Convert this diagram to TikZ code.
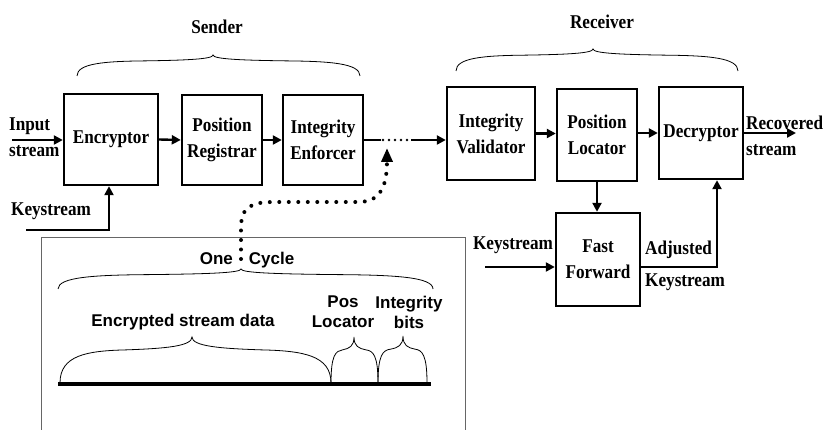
\documentclass[tikz,border=0pt]{standalone}
\usepackage{fontspec}
\setmainfont{Liberation Serif}[FakeStretch=0.88]
\setsansfont{Liberation Sans}
\usetikzlibrary{arrows.meta,calc}
\newcommand{\mybrace}[5]{%
\draw[brc] (#1,#4) .. controls (#1,{#4-0.6*#5}) and ({#1+0.2*(#2-#1)},{#4-0.7*#5}) .. ({#1+0.5*(#2-#1)},{#4-0.72*#5})
 .. controls ({#2-0.2*(#2-#1)},{#4-0.75*#5}) and (#2,{#4-0.8*#5}) .. (#2,{#4-#5})
 .. controls (#2,{#4-0.8*#5}) and ({#2+0.2*(#3-#2)},{#4-0.75*#5}) .. ({#2+0.5*(#3-#2)},{#4-0.72*#5})
 .. controls ({#3-0.2*(#3-#2)},{#4-0.7*#5}) and (#3,{#4-0.6*#5}) .. (#3,#4);}
\begin{document}
\begin{tikzpicture}[x=1pt,y=-1pt,
  blk/.style={draw, line width=2.4pt, inner sep=0pt, align=center, font=\bfseries\fontsize{19.5}{26}\selectfont},
  lbl/.style={inner sep=0pt, align=left, font=\bfseries\fontsize{19.5}{26}\selectfont},
  sl/.style={inner sep=0pt, align=center, font=\sffamily\bfseries\fontsize{17}{20}\selectfont},
  arr/.style={line width=2.4pt, -{Triangle[length=9pt,width=9pt]}},
  ln/.style={line width=2.4pt},
  brc/.style={line width=0.8pt},
  dotsm/.style={line width=2.6pt, line cap=round, dash pattern=on 0pt off 6pt},
  dotbig/.style={line width=4pt, line cap=round, dash pattern=on 0pt off 9.5pt, -{Triangle[length=14pt,width=11pt]}}]
\useasboundingbox (0,0) rectangle (827,430);
\fill[white] (0,0) rectangle (827,430);

% boxes
\node[blk, minimum width=94pt, minimum height=91pt] (enc) at (111,139.5) {Encryptor};
\node[blk, minimum width=80pt, minimum height=90pt] (pr) at (222,140) {Position\\Registrar};
\node[blk, minimum width=80pt, minimum height=90pt] (ie) at (323,140) {Integrity\\Enforcer};
\node[blk, minimum width=88pt, minimum height=93pt] (iv) at (491,133.5) {Integrity\\Validator};
\node[blk, minimum width=80pt, minimum height=92pt] (pl) at (597,135) {Position\\Locator};
\node[blk, minimum width=84pt, minimum height=92pt] (dec) at (701,133) {Decryptor};
\node[blk, minimum width=84pt, minimum height=93pt] (ff) at (598,259.5) {Fast\\Forward};

% labels
\node[lbl] (snd) at (217,27) {Sender};
\node[lbl] (rcv) at (602,22) {Receiver};
\node[lbl, anchor=west] (inp) at (9,137.5) {Input\\stream};
\node[lbl, anchor=west] (ks) at (11,211) {Keystream};
\node[lbl, anchor=west] (rec) at (746,136) {Recovered\\stream};
\node[lbl] (ks2) at (513,245) {Keystream};
\node[lbl, anchor=west] (adj) at (645,250) {Adjusted};
\node[lbl, anchor=west] (adjk) at (645,282) {Keystream};

% braces
\mybrace{77}{213}{360}{76}{21}
\mybrace{456}{593}{738}{71}{22}

% connectors
\coordinate (inS) at (12,140);
\draw[arr] (inS) -- (inS -| enc.west);
\coordinate (ksS) at (26,230);
\draw[arr] (ksS) -| ($(enc.south)+(-2,0)$);
\draw[arr] (enc.east) -- (pr.west);
\draw[arr] (pr.east) -- (ie.west);
\coordinate (d1) at (381,140);
\coordinate (d2) at (411,140);
\draw[ln] (ie.east) -- (d1);
\draw[dotsm] (383,140) -- (408,140);
\draw[arr] (d2) -- (d2 -| iv.west);
\draw[arr] (iv.east) -- (iv.east -| pl.west);
\draw[arr] (dec.west -| pl.east) -- (dec.west);
\coordinate (recE) at (796,133);
\draw[arr] (dec.east) -- (recE);
\draw[arr] (pl.south) -- (pl.south |- ff.north);
\coordinate (ks2S) at (485,267);
\draw[arr] (ks2S) -- (ks2S -| ff.west);
\draw[arr] ($(ff.east)+(0,7.5)$) -| ($(dec.south)+(16,0)$);

% cycle panel
\draw[line width=1pt, black!60] (41,431) -- (41,238) -- (465,238) -- (465,431);
\node[sl] (oc) at (247,260) {One\hspace{16pt}Cycle};
\mybrace{58}{241}{433}{289}{20}
\node[sl] (esd) at (183,322) {Encrypted stream data};
\node[sl] (pos) at (343,312) {Pos\\Locator};
\node[sl] (ib) at (409,312) {Integrity\\bits};
\mybrace{60}{192}{331}{383}{46}
\mybrace{331}{354}{378}{383}{46}
\mybrace{378}{403}{427}{383}{47}
\draw[line width=3.2pt] (58,384) -- (431,384);

% dotted cycle pointer
\coordinate (dotS) at (241,259);
\coordinate (dotE) at (387,148);
\draw[dotbig] (dotS) -- (241,228) .. controls (241,206) and (252,202) .. (275,202) -- (358,202) .. controls (378,202) and (387,190) .. (dotE);
\end{tikzpicture}
\end{document}
